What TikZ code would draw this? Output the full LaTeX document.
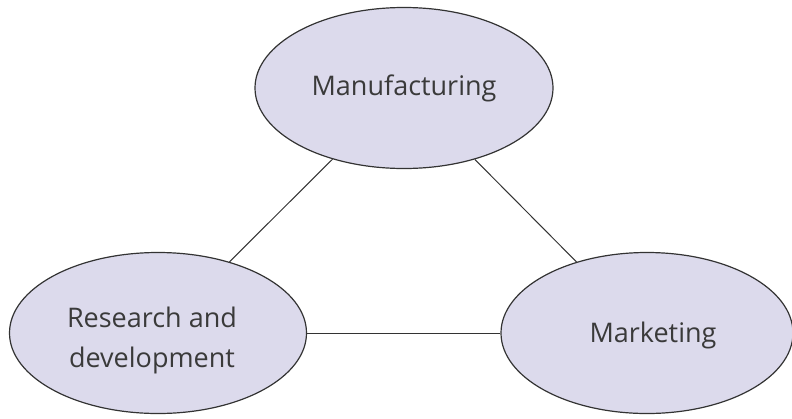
\documentclass[tikz,border=0pt]{standalone}
\usepackage{fontspec}
\setmainfont{Open Sans}
\usetikzlibrary{shapes.geometric}
\definecolor{ellfill}{HTML}{DCDAEC}
\definecolor{ellline}{HTML}{333333}
\definecolor{txtcol}{HTML}{3A3A3A}
\tikzset{
  bubble/.style={ellipse, draw=ellline, line width=1.2pt, fill=ellfill, inner sep=0pt},
  lbl/.style={text=txtcol, font=\fontsize{27}{40}\selectfont, align=center, inner sep=0pt},
  link/.style={draw=ellline, line width=1pt}
}
\begin{document}
\begin{tikzpicture}[x=1pt,y=-1pt]
\useasboundingbox (0,0) rectangle (792,418);
\node[bubble, minimum width=298pt, minimum height=161pt] (man) at (404,88) {};
\node[bubble, minimum width=297pt, minimum height=161pt] (rd) at (158,333) {};
\node[bubble, minimum width=292pt, minimum height=161pt] (mk) at (647,333) {};
\draw[link] (man) -- (rd);
\draw[link] (man) -- (mk);
\draw[link] (rd) -- (mk);
\node[lbl] (tman) at (404,88) {Manufacturing};
\node[lbl] (trd) at (152,340) {Research and\\development};
\node[lbl] (tmk) at (653,335) {Marketing};
\end{tikzpicture}
\end{document}
